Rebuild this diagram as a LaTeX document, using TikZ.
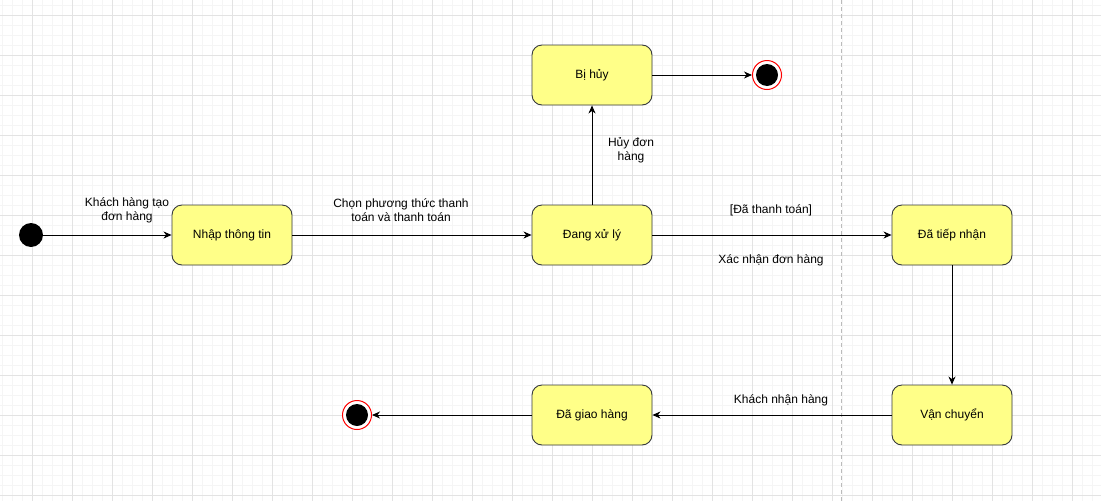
\documentclass[tikz,border=0pt]{standalone}
\usepackage{fontspec}
\setmainfont{Liberation Sans}
\usetikzlibrary{arrows.meta}
\definecolor{stateyellow}{HTML}{FFFF88}
\definecolor{stateborder}{HTML}{36393D}
\definecolor{minorgrid}{HTML}{F5F5F5}
\definecolor{majorgrid}{HTML}{E3E3E3}
\definecolor{endred}{HTML}{FF0000}
\definecolor{sepgray}{HTML}{BBBBBB}
\tikzset{
  statebox/.style={draw=stateborder, fill=stateyellow, rounded corners=10pt, minimum width=120pt, minimum height=60pt, line width=0.9pt, inner sep=0pt, font=\fontsize{12}{14}\selectfont},
  startstate/.style={circle, fill=black, minimum size=24pt, inner sep=0pt},
  endstate/.style={circle, draw=endred, fill=white, line width=1pt, minimum size=29pt, inner sep=0pt,
    path picture={\fill[black] (path picture bounding box.center) circle (11pt);}},
  trans/.style={line width=1pt, -{Stealth[length=8pt,width=7pt,inset=2.5pt]}},
  lbl/.style={font=\fontsize{12}{14}\selectfont, align=center, inner sep=0pt},
}
\begin{document}
\begin{tikzpicture}[x=1pt,y=-1pt]
\path[use as bounding box] (0,0) rectangle (1101,501);
\fill[white] (0,0) rectangle (1101,501);
% grid
\foreach \gx in {2.5,12.5,...,1092.5} \draw[minorgrid, line width=1pt] (\gx,0) -- (\gx,501);
\foreach \gy in {5.5,15.5,...,495.5} \draw[minorgrid, line width=1pt] (0,\gy) -- (1101,\gy);
\foreach \gx in {32.5,72.5,...,1072.5} \draw[majorgrid, line width=1pt] (\gx,0) -- (\gx,501);
\foreach \gy in {15.5,55.5,...,495.5} \draw[majorgrid, line width=1pt] (0,\gy) -- (1101,\gy);
\draw[sepgray, line width=1pt, dash pattern=on 4pt off 3pt] (841.5,0) -- (841.5,501);
% states
\node[startstate] (start) at (31,235) {};
\node[statebox] (nhap) at (232,235) {Nhập thông tin};
\node[statebox] (xuly) at (592,235) {Đang xử lý};
\node[statebox] (huy) at (592,75) {Bị hủy};
\node[endstate] (endhuy) at (767,75) {};
\node[statebox] (tiepnhan) at (952,235) {Đã tiếp nhận};
\node[statebox] (vanchuyen) at (952,415) {Vận chuyển};
\node[statebox] (giaohang) at (592,415) {Đã giao hàng};
\node[endstate] (endgiao) at (357,415) {};
% transitions
\draw[trans] (start) -- (nhap);
\draw[trans] (nhap) -- (xuly);
\draw[trans] (xuly) -- (huy);
\draw[trans] (huy) -- (endhuy);
\draw[trans] (xuly) -- (tiepnhan);
\draw[trans] (tiepnhan) -- (vanchuyen);
\draw[trans] (vanchuyen) -- (giaohang);
\draw[trans] (giaohang) -- (endgiao);
% labels
\node[lbl] (ltao) at (127,210) {Khách hàng tạo\\đơn hàng};
\node[lbl] (lchon) at (401,210) {Chọn phương thức thanh\\toán và thanh toán};
\node[lbl] (lhuy) at (631,150) {Hủy đơn\\hàng};
\node[lbl] (lda) at (771,210) {[Đã thanh toán]};
\node[lbl] (lxac) at (771,260) {Xác nhận đơn hàng};
\node[lbl] (lnhan) at (781,400) {Khách nhận hàng};
\end{tikzpicture}
\end{document}
